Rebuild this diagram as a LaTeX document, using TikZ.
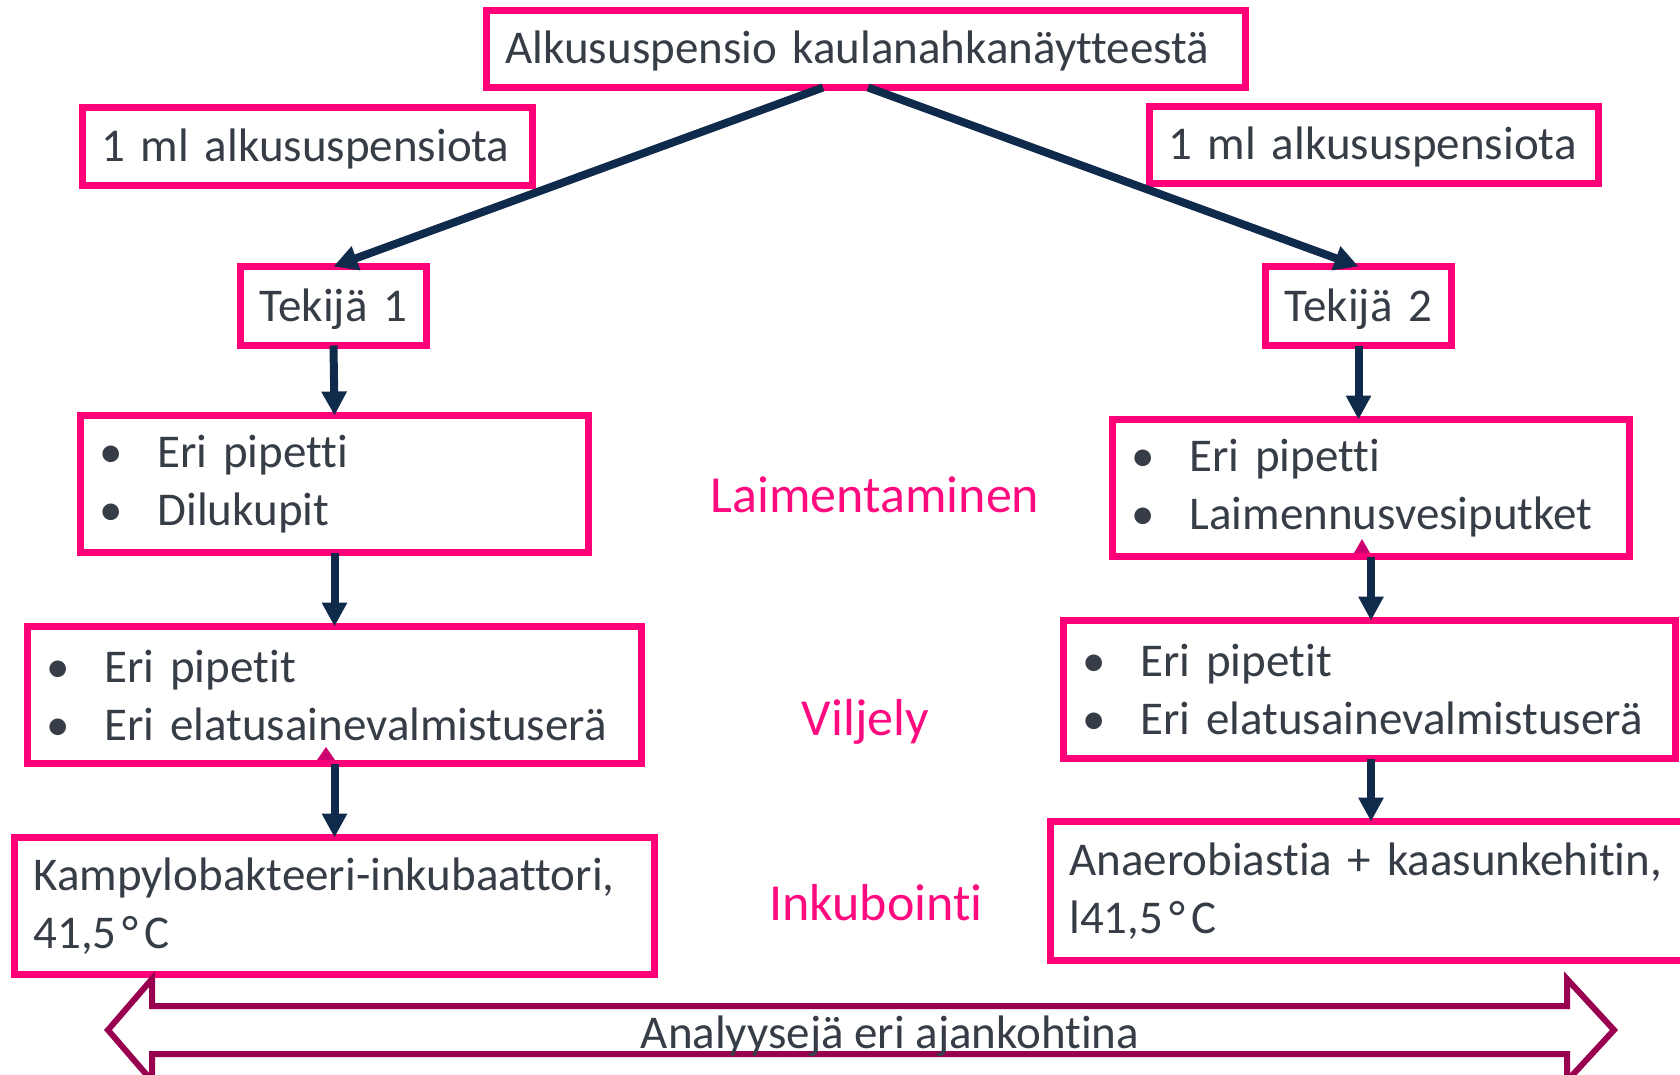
\documentclass[tikz,border=0pt]{standalone}
\usepackage{fontspec}
\setmainfont{Carlito}[Ligatures=NoCommon]
\usetikzlibrary{arrows.meta}
\definecolor{boxpink}{HTML}{FF0078}
\definecolor{phasepink}{HTML}{FF0A7F}
\definecolor{tippink}{HTML}{CC0070}
\definecolor{navy}{HTML}{102A4C}
\definecolor{wine}{HTML}{99004F}
\definecolor{ink}{HTML}{363D46}
\tikzset{
  box/.style={draw=boxpink, line width=7pt, outer sep=0pt, inner xsep=19pt, inner ysep=0pt,
    align=left, text=ink, font=\fontsize{47}{58}\selectfont},
  onebox/.style={box, text height=35pt, text depth=5pt},
  flow/.style={navy, line width=8pt, -{Triangle[width=24pt,length=24pt]}},
  phase/.style={text=phasepink, anchor=base, font=\fontsize{52}{60}\selectfont},
}
\newcommand{\bul}{\makebox[58pt][l]{\textbullet}}
\newcommand{\degc}{\hspace{6pt}°\hspace{6pt}C}
\begin{document}
\begin{tikzpicture}[x=1pt, y=-1pt]
\useasboundingbox (0,0) rectangle (1680,1075);
\node[onebox, minimum width=759pt, minimum height=77pt, text width=721pt] (top) at (866,49) {Alkususpensio kaulanahkanäytteestä};
\node[onebox, minimum width=450pt, minimum height=78pt, text width=412pt] (ml1) at (307.5,146.5) {1 ml alkususpensiota};
\node[onebox, minimum width=449pt, minimum height=77pt, text width=411pt] (ml2) at (1374,145) {1 ml alkususpensiota};
\node[onebox, minimum width=186pt, minimum height=79pt, text width=148pt] (tek1) at (333.5,306) {Tekijä 1};
\node[onebox, minimum width=186pt, minimum height=79pt, text width=148pt] (tek2) at (1358.5,306) {Tekijä 2};
\node[box, minimum width=508pt, minimum height=137pt, text width=470pt] (lb1) at (334.5,484) {\bul Eri pipetti\\\bul Dilukupit};
\node[box, minimum width=614pt, minimum height=137pt, text width=576pt] (lb2) at (334.5,695) {\bul Eri pipetit\\\bul Eri elatusainevalmistuserä};
\node[box, minimum width=640pt, minimum height=137pt, text width=602pt] (lb3) at (334.5,906) {Kampylobakteeri-inkubaattori,\\41,5\degc};
\node[box, minimum width=517pt, minimum height=137pt, text width=479pt] (rb1) at (1371,488) {\bul Eri pipetti\\\bul Laimennusvesiputket};
\node[box, minimum width=612pt, minimum height=138pt, text width=574pt] (rb2) at (1369.5,689.5) {\bul Eri pipetit\\\bul Eri elatusainevalmistuserä};
\node[box, minimum width=645pt, minimum height=139pt, text width=607pt] (rb3) at (1372.75,891) {Anaerobiastia + kaasunkehitin,\\l41,5\degc};
\node[phase] (laim) at (875,512) {Laimentaminen};
\node[phase] (vilj) at (865.5,735) {Viljely};
\node[phase] (inku) at (876,920) {Inkubointi};
\draw[flow] ([xshift=-43pt]top.south) -- (tek1.north);
\draw[flow] ([xshift=2pt]top.south) -- (tek2.north);
\draw[flow] (tek1.south) -- (lb1.north);
\draw[flow] (lb1.south) -- (lb2.north);
\draw[flow] (lb2.south) -- (lb3.north);
\draw[flow] (tek2.south) -- (tek2.south |- rb1.north);
\draw[flow] (rb1.south) -- (rb1.south |- rb2.north);
\draw[flow] (rb1.south |- rb2.south) -- (rb1.south |- rb3.north);
\fill[tippink] (326,747) -- (317,760) -- (335,760) -- cycle;
\fill[tippink] (1362,539) -- (1354,553) -- (1370,553) -- cycle;
\draw[wine, line width=6pt, fill=white] (108,1030) -- (152,979) -- (152,1006) -- (1567,1006) -- (1567,979)
  -- (1614,1030) -- (1567,1081) -- (1567,1054) -- (152,1054) -- (152,1081) -- cycle;
\node[anchor=base, text=ink, font=\fontsize{47}{58}\selectfont] (span) at (890,1048) {Analyysejä eri ajankohtina};
\end{tikzpicture}
\end{document}
